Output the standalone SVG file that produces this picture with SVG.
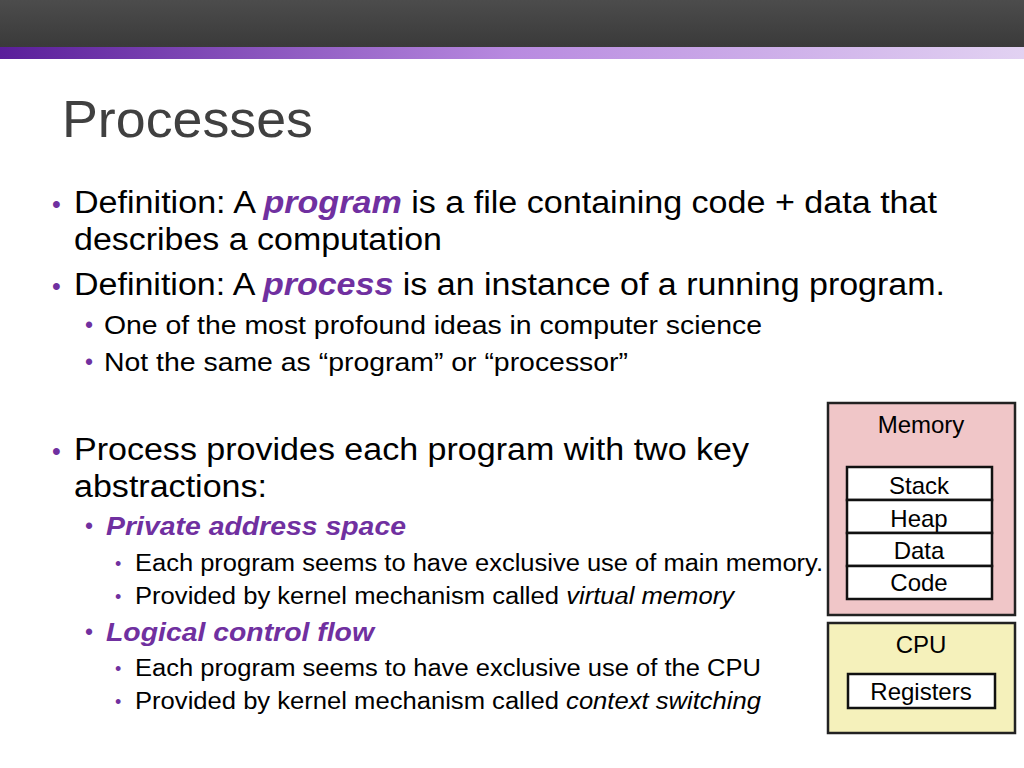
<svg xmlns="http://www.w3.org/2000/svg" width="1024" height="768" viewBox="0 0 1024 768">
<style>
text{font-family:"Liberation Sans",Arial,sans-serif;fill:#000}
.b1{font-size:31px}.b2{font-size:25px}.b3{font-size:23px}
.dot{fill:#7030a0}
.em{fill:#7030a0;font-weight:bold;font-style:italic}
.box{stroke:#222;stroke-width:2.5}
.cell{fill:#fff;stroke:#111;stroke-width:2.5}
.lbl{font-size:24px;text-anchor:middle}
</style>
<defs>
<linearGradient id="top" x1="0" y1="0" x2="0" y2="1"><stop offset="0" stop-color="#4c4c4c"/><stop offset="1" stop-color="#3a3a3a"/></linearGradient>
<linearGradient id="band" x1="0" y1="0" x2="1" y2="0"><stop offset="0" stop-color="#5a1e9a"/><stop offset="0.5" stop-color="#b88ae0"/><stop offset="1" stop-color="#e2d2f2"/></linearGradient>
</defs>
<rect width="1024" height="768" fill="#fff"/>
<rect width="1024" height="47" fill="url(#top)"/>
<rect y="47" width="1024" height="12" fill="url(#band)"/>
<text x="62" y="137" font-size="52" style="fill:#404040" textLength="251" lengthAdjust="spacingAndGlyphs">Processes</text>
<g>
<text x="52" y="213" class="b2 dot">•</text>
<text x="74" y="213" class="b1" textLength="863" lengthAdjust="spacingAndGlyphs">Definition: A <tspan class="em">program</tspan> is a file containing code + data that</text>
<text x="74" y="250" class="b1" textLength="368" lengthAdjust="spacingAndGlyphs">describes a computation</text>
<text x="52" y="295" class="b2 dot">•</text>
<text x="74" y="295" class="b1" textLength="871" lengthAdjust="spacingAndGlyphs">Definition: A <tspan class="em">process</tspan> is an instance of a running program.</text>
<text x="85" y="333" class="b3 dot">•</text>
<text x="104" y="334" class="b2" textLength="658" lengthAdjust="spacingAndGlyphs">One of the most profound ideas in computer science</text>
<text x="85" y="370" class="b3 dot">•</text>
<text x="104" y="371" class="b2" textLength="524" lengthAdjust="spacingAndGlyphs">Not the same as “program” or “processor”</text>
<text x="52" y="460" class="b2 dot">•</text>
<text x="74" y="460" class="b1" textLength="675" lengthAdjust="spacingAndGlyphs">Process provides each program with two key</text>
<text x="74" y="497" class="b1" textLength="193" lengthAdjust="spacingAndGlyphs">abstractions:</text>
<text x="85" y="534" class="b3 dot">•</text>
<text x="106" y="535" class="b2 em" textLength="300" lengthAdjust="spacingAndGlyphs">Private address space</text>
<text x="115" y="570" class="dot" style="font-size:18px">•</text>
<text x="135" y="571" class="b3" textLength="688" lengthAdjust="spacingAndGlyphs">Each program seems to have exclusive use of main memory.</text>
<text x="115" y="603" class="dot" style="font-size:18px">•</text>
<text x="135" y="604" class="b3" textLength="599" lengthAdjust="spacingAndGlyphs">Provided by kernel mechanism called <tspan font-style="italic">virtual memory</tspan></text>
<text x="85" y="640" class="b3 dot">•</text>
<text x="106" y="641" class="b2 em" textLength="268" lengthAdjust="spacingAndGlyphs">Logical control flow</text>
<text x="115" y="675" class="dot" style="font-size:18px">•</text>
<text x="135" y="676" class="b3" textLength="626" lengthAdjust="spacingAndGlyphs">Each program seems to have exclusive use of the CPU</text>
<text x="115" y="708" class="dot" style="font-size:18px">•</text>
<text x="135" y="709" class="b3" textLength="626" lengthAdjust="spacingAndGlyphs">Provided by kernel mechanism called <tspan font-style="italic">context switching</tspan></text>
</g>
<g id="memory">
<rect x="828" y="403" width="187" height="212" fill="#f0c6c8" class="box"/>
<text x="921" y="433" class="lbl">Memory</text>
</g>
<g id="stack"><rect x="847" y="467" width="145" height="33" class="cell"/><text x="919" y="494" class="lbl">Stack</text></g>
<g id="heap"><rect x="847" y="500" width="145" height="33" class="cell"/><text x="919" y="527" class="lbl">Heap</text></g>
<g id="data"><rect x="847" y="533" width="145" height="33" class="cell"/><text x="919" y="559" class="lbl">Data</text></g>
<g id="code"><rect x="847" y="566" width="145" height="33" class="cell"/><text x="919" y="591" class="lbl">Code</text></g>
<g id="cpu">
<rect x="828" y="623" width="187" height="110" fill="#f5f1bb" class="box"/>
<text x="921" y="653" class="lbl">CPU</text>
</g>
<g id="registers"><rect x="848" y="674" width="147" height="34" class="cell"/><text x="921" y="700" class="lbl">Registers</text></g>
<g id="connectors"/>
</svg>
